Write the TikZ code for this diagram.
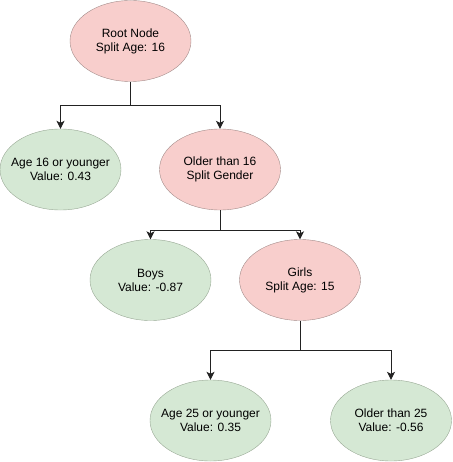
\documentclass[tikz,border=0pt]{standalone}
\usepackage{fontspec}
\setmainfont{Liberation Sans}
\usetikzlibrary{shapes.geometric,arrows.meta}
\definecolor{splitfill}{HTML}{F8CECC}
\definecolor{splitline}{HTML}{A38C8A}
\definecolor{leaffill}{HTML}{D5E8D4}
\definecolor{leafline}{HTML}{98A894}
\definecolor{wire}{HTML}{222222}
\tikzset{
  treenode/.style={ellipse, minimum width=121pt, minimum height=81pt,
    inner xsep=-12pt, inner ysep=0pt, align=center,
    font=\fontsize{12}{14}\selectfont},
  split/.style={treenode, draw=splitline, fill=splitfill},
  leaf/.style={treenode, draw=leafline, fill=leaffill},
  wire/.style={draw=wire, line width=0.9pt},
  arrow/.style={wire, -{Stealth[length=8pt,width=8pt,inset=2pt]}}
}
\begin{document}
\begin{tikzpicture}[x=1pt, y=1pt, node distance=128.5pt]
	\useasboundingbox (0,0) rectangle (452,-462);
	\node[split] (root) at (130.5,-41) {Root Node\\Split Age: 16};
	\node[leaf] (young16) [below of=root, xshift=-70pt] {Age 16 or younger\\Value: 0.43};
	\node[split] (older16) [below of=root, xshift=89.5pt] {Older than 16\\Split Gender};
	\node[leaf] (boys) [node distance=110.5pt, below of=older16, xshift=-69.5pt] {Boys\\Value: -0.87};
	\node[split] (girls) [node distance=110.5pt, below of=older16, xshift=80pt] {Girls\\Split Age: 15};
	\node[leaf] (young25) [node distance=140.5pt, below of=girls, xshift=-89.5pt] {Age 25 or younger\\Value: 0.35};
	\node[leaf] (older25) [node distance=140.5pt, below of=girls, xshift=91pt] {Older than 25\\Value: -0.56};
	% split points
	\path (root.center) ++(0,-64) coordinate (rootsplit);
	\path (older16.center) ++(0,-60.5) coordinate (gendersplit);
	\path (girls.center) ++(0,-70) coordinate (girlsplit);
	\draw[wire] (root) -- (rootsplit);
	\draw[arrow] (rootsplit) -| (young16);
	\draw[arrow] (rootsplit) -| (older16);
	\draw[wire] (older16) -- (gendersplit);
	\draw[arrow] (gendersplit) -| (boys);
	\draw[arrow] (gendersplit) -| (girls);
	\draw[wire] (girls) -- (girlsplit);
	\draw[arrow] (girlsplit) -| (young25);
	\draw[arrow] (girlsplit) -| (older25);
\end{tikzpicture}
\end{document}
